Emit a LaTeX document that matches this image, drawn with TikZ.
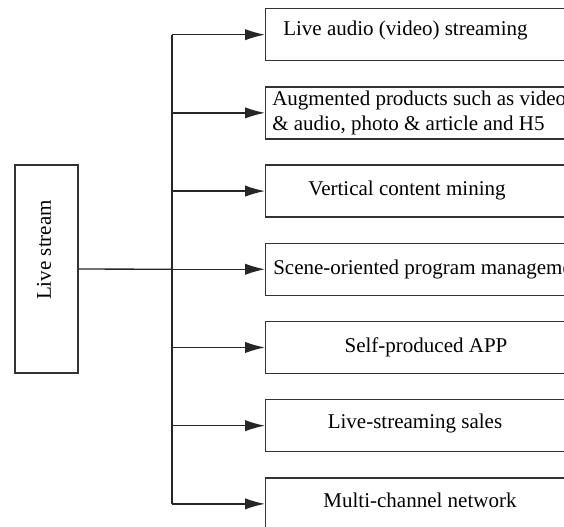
\documentclass[tikz,border=0pt]{standalone}
\usepackage{fontspec}
\setmainfont{Liberation Serif}
\usetikzlibrary{arrows.meta}
\usetikzlibrary{positioning}

\tikzset{
  itembox/.style={draw=black!80,line width=1pt,rectangle,anchor=north west,
    minimum width=228.75pt,minimum height=39pt,inner sep=0pt},
  rootbox/.style={draw=black!80,line width=1pt,rectangle,
    minimum width=47.25pt,minimum height=156pt,inner sep=0pt},
  itemtext/.style={inner sep=0pt,font=\fontsize{15.75}{18.75}\selectfont},
  link/.style={line width=1pt,draw=black!85},
  feed/.style={link,-{Latex[length=15pt,width=8.5pt]}}
}

\begin{document}
\begin{tikzpicture}[x=0.75pt,y=-0.75pt]

  \clip (0,0) rectangle (564,526);

  % root box on the left
  \node [rootbox] (root) at (46.5,269) {};
  \node [itemtext,rotate=90] (rootlab) at (44,250) {Live stream};

  % the seven item boxes, stacked
  \foreach \i in {1,...,7} {
    \node [itembox] (box\i) at (265,{8+78.2*(\i-1)}) {};
    \coordinate (trunk\i) at (172,0 |- box\i.west);
  }

  \node [itemtext,anchor=west] (lab1) at (283,30) {Live audio (video) streaming};
  \node [itemtext,anchor=west,align=left] (lab2) at (272,113)
    {Augmented products such as video\\ \& audio, photo \& article and H5};
  \node [itemtext] (lab3) at (407,190) {Vertical content mining};
  \node [itemtext,anchor=west] (lab4) at (273,269) {Scene-oriented program management};
  \node [itemtext] (lab5) at (426,347) {Self-produced APP};
  \node [itemtext] (lab6) at (415,423) {Live-streaming sales};
  \node [itemtext] (lab7) at (420,500) {Multi-channel network};

  % trunk and branches
  \draw [link] (trunk1) -- (trunk7);
  \draw [link] (root.east) -- (trunk4);
  \foreach \i in {1,...,7}
    \draw [feed] (trunk\i) -- (box\i.west);

\end{tikzpicture}
\end{document}
